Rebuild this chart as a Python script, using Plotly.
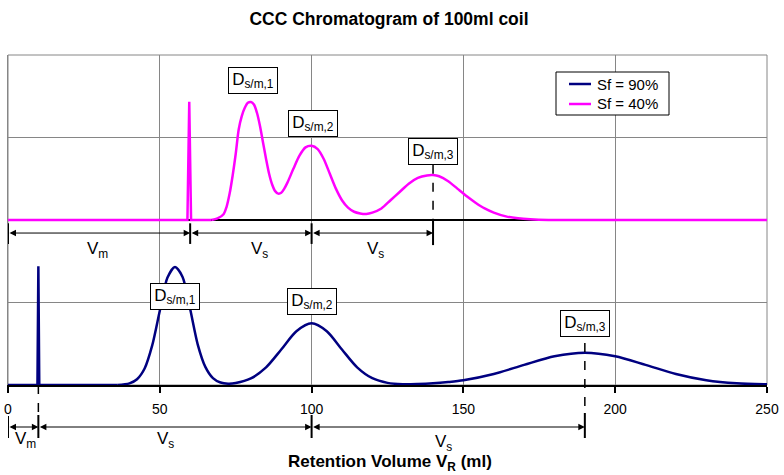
import plotly.graph_objects as go

# ---------------- data ----------------
# Retention volume axis (ml)
X_MAX = 250
x_ticks = [0, 50, 100, 150, 200, 250]

# Sf = 90 % : injection spike and detector trace
sf90_spike_x = [0, 9.7, 10, 10.3, 36]
sf90_spike_y = [0, 0, 0.72, 0, 0]
sf90_x = [36, 40, 42.5, 45, 47.5, 50, 52.5, 55, 57.5, 60, 62.5, 65, 67.5, 70, 72.5,
          75, 80, 85, 90, 95, 100, 105, 110, 115, 120, 125, 130, 135, 140, 145,
          150, 160, 170, 180, 190, 200, 210, 220, 230, 240, 250]
sf90_y = [0, 0.01, 0.035, 0.10, 0.24, 0.45, 0.65, 0.715, 0.655, 0.46, 0.245, 0.11, 0.042, 0.015, 0.008,
          0.012, 0.04, 0.107, 0.215, 0.326, 0.374, 0.326, 0.215, 0.107, 0.041, 0.013, 0.005, 0.006, 0.010, 0.018,
          0.029, 0.067, 0.122, 0.174, 0.196, 0.174, 0.122, 0.067, 0.029, 0.010, 0.004]

# Sf = 40 % : injection spike and detector trace (drawn on a raised baseline)
sf40_spike_x = [0, 59.1, 59.7, 60.3, 67]
sf40_spike_y = [0, 0, 0.717, 0, 0]
sf40_x = [67, 69, 71, 72, 73, 74, 75, 76, 77, 78, 79, 80, 81, 82, 83, 84, 85, 86, 87, 88, 89,
          90, 91, 92, 94, 96, 98, 100, 102, 104, 106, 108, 110, 112, 114, 116, 118, 120,
          123, 126, 129, 132, 135, 138, 140, 142, 145, 148, 151, 154, 157, 160, 164, 168,
          172, 178, 250]
sf40_y = [0, 0.01, 0.035, 0.08, 0.16, 0.27, 0.40, 0.55, 0.63, 0.68, 0.71, 0.715, 0.70, 0.65, 0.57,
          0.47, 0.37, 0.28, 0.215, 0.175, 0.16, 0.165, 0.19, 0.225, 0.31, 0.39, 0.44, 0.45, 0.43,
          0.37, 0.28, 0.19, 0.12, 0.075, 0.05, 0.04, 0.037, 0.045, 0.07, 0.12, 0.17, 0.22, 0.255,
          0.27, 0.272, 0.265, 0.235, 0.19, 0.145, 0.105, 0.07, 0.045, 0.022, 0.01, 0.004, 0, 0]
SF40_BASE = 1.0

# Volumes for the two coil settings
sf90_vm, sf90_peaks = 10, [55, 100, 190]
sf40_vm, sf40_peaks = 60, [80, 100, 140]
peak_labels = ["D<sub>s/m,1</sub>", "D<sub>s/m,2</sub>", "D<sub>s/m,3</sub>"]
series_names = ["Sf = 90%", "Sf = 40%"]

# ---------------- styling ----------------
FONT = "Liberation Sans, Arial, sans-serif"
NAVY = "#000080"
MAGENTA = "#FF00FF"
GRID = "#868686"

# plot area in pixels (for placing the key box and the frame)
L, R, T, B = 8, 767, 55, 385
def px_x(p):
    return (p - L) / (R - L)
def px_y(p):
    return (B - p) / (B - T)

fig = go.Figure()

# black baseline of the upper trace
fig.add_trace(go.Scatter(x=[0, X_MAX], y=[SF40_BASE, SF40_BASE], mode="lines",
                         line=dict(color="black", width=2), showlegend=False, hoverinfo="skip"))

fig.add_trace(go.Scatter(x=sf90_spike_x, y=sf90_spike_y, mode="lines",
                         line=dict(color=NAVY, width=2.5), showlegend=False))
fig.add_trace(go.Scatter(x=sf90_x, y=sf90_y, mode="lines", name=series_names[0],
                         line=dict(color=NAVY, width=2.5, shape="spline", smoothing=0.8),
                         showlegend=False))

fig.add_trace(go.Scatter(x=sf40_spike_x, y=[v + SF40_BASE for v in sf40_spike_y], mode="lines",
                         line=dict(color=MAGENTA, width=2.5), showlegend=False))
fig.add_trace(go.Scatter(x=sf40_x, y=[v + SF40_BASE for v in sf40_y], mode="lines", name=series_names[1],
                         line=dict(color=MAGENTA, width=2.5, shape="spline", smoothing=0.8),
                         showlegend=False))

shapes = []
annotations = []

# plot-area frame
shapes.append(dict(type="rect", xref="paper", yref="paper", x0=0, x1=1, y0=0, y1=1,
                   line=dict(color=GRID, width=1), layer="below"))

# ---- key box ----
shapes.append(dict(type="rect", xref="paper", yref="paper",
                   x0=px_x(556), x1=px_x(669), y0=px_y(115), y1=px_y(72),
                   line=dict(color="black", width=1), fillcolor="white", layer="above"))
for name, col, ky in zip(series_names, [NAVY, MAGENTA], [84, 104]):
    shapes.append(dict(type="line", xref="paper", yref="paper",
                       x0=px_x(569), x1=px_x(591), y0=px_y(ky), y1=px_y(ky),
                       line=dict(color=col, width=2.5), layer="above"))
    annotations.append(dict(x=px_x(595), y=px_y(ky), xref="paper", yref="paper",
                            xanchor="left", yanchor="middle", text=name, showarrow=False,
                            font=dict(family=FONT, size=15, color="black")))

# ---- peak labels ----
def peak_box(x, y, text):
    return dict(x=x, y=y, xref="x", yref="y", text=text, showarrow=False,
                font=dict(family=FONT, size=17, color="black"),
                bgcolor="white", bordercolor="black", borderwidth=1, borderpad=2,
                width=44, height=21, align="center", valign="middle")

sf40_label_y = [1.848, 1.584, 1.418]
sf40_label_dx = [0.7, 0.4, 0]
for px, ly, dx, t in zip(sf40_peaks, sf40_label_y, sf40_label_dx, peak_labels):
    annotations.append(peak_box(px + dx, ly, t))
sf90_label_y = [0.536, 0.506, 0.37]
for px, ly, t in zip(sf90_peaks, sf90_label_y, peak_labels):
    annotations.append(peak_box(px, ly, t))

# ---- dimension chains ----
def dim_arrow(x0, x1, y, yref):
    a = dict(x=x1, ax=x0, y=y, xref="x", axref="x", yref=yref, text="",
             showarrow=True, arrowside="end+start", arrowhead=2, startarrowhead=2,
             arrowsize=1.3, startarrowsize=1.3, arrowwidth=1, arrowcolor="black")
    if yref == "y":
        a.update(ay=y, ayref="y")
    else:
        a.update(ay=0, ayref="pixel")
    return a

def vbar(x, y0, y1, yref, dash="solid", width=2):
    return dict(type="line", xref="x", yref=yref, x0=x, x1=x, y0=y0, y1=y1,
                line=dict(color="black", width=width, dash=dash))

def dim_label(x, y, yref, text):
    return dict(x=x, y=y, xref="x", yref=yref, text=text, showarrow=False,
                xanchor="center", yanchor="middle",
                font=dict(family=FONT, size=17, color="black"))

# upper chain: Vm then two Vs steps
up_stops = [0, sf40_vm, sf40_peaks[1], sf40_peaks[2]]
UP_Y = 0.921
for a, b in zip(up_stops[:-1], up_stops[1:]):
    annotations.append(dim_arrow(a, b, UP_Y, "y"))
for s in up_stops[:-1]:
    shapes.append(vbar(s, 0.98, 0.855, "y"))
shapes.append(vbar(up_stops[-1], 1.0, 0.848, "y"))
shapes.append(vbar(up_stops[-1], 1.335, 1.0, "y", dash="dash", width=1.5))
up_label_x = [29.5, 82.8, 121]
for lx, t in zip(up_label_x, ["V<sub>m</sub>", "V<sub>s</sub>", "V<sub>s</sub>"]):
    annotations.append(dim_label(lx, 0.82, "y", t))

# lower chain, below the axis
lo_stops = [0, sf90_vm, sf90_peaks[1], sf90_peaks[2]]
LO_Y = px_y(427)
for a, b in zip(lo_stops[:-1], lo_stops[1:]):
    annotations.append(dim_arrow(a, b, LO_Y, "paper"))
shapes.append(vbar(lo_stops[0], px_y(416), px_y(438), "paper"))
shapes.append(vbar(lo_stops[1], px_y(415), px_y(438), "paper"))
shapes.append(vbar(lo_stops[1], 0, px_y(415), "paper", dash="dash", width=1.5))
shapes.append(vbar(lo_stops[2], px_y(415), px_y(438), "paper"))
shapes.append(vbar(lo_stops[3], px_y(413), px_y(438), "paper"))
shapes.append(vbar(lo_stops[3], px_y(343), px_y(413), "paper", dash="dash", width=1.5))
lo_label_x = [5.6, 52, 143.4]
lo_label_y = [440, 440, 443]
for lx, ly, t in zip(lo_label_x, lo_label_y, ["V<sub>m</sub>", "V<sub>s</sub>", "V<sub>s</sub>"]):
    annotations.append(dim_label(lx, px_y(ly), "paper", t))

# x-axis title
annotations.append(dict(x=px_x(390), y=px_y(463), xref="paper", yref="paper", showarrow=False,
                        xanchor="center", yanchor="middle",
                        text="<b>Retention Volume V<sub>R</sub> (ml)</b>",
                        font=dict(family=FONT, size=17, color="black")))

fig.update_layout(
    width=784, height=475,
    margin=dict(l=L, r=784 - R, t=T, b=475 - B, autoexpand=False),
    paper_bgcolor="white", plot_bgcolor="white",
    font=dict(family=FONT, color="black"),
    title=dict(text="<b>CCC Chromatogram of 100ml coil</b>", x=389 / 784,
               xanchor="center", y=1 - 19 / 475, yanchor="middle", yref="container",
               font=dict(family=FONT, size=17.5, color="black")),
    xaxis=dict(range=[0, X_MAX], tickvals=x_ticks, ticks="outside", ticklen=6,
               tickcolor="black", tickwidth=1.5, showline=True, linecolor="black", linewidth=1.5,
               showgrid=True, gridcolor=GRID, gridwidth=1, zeroline=False, automargin=False,
               tickfont=dict(family=FONT, size=14, color="black"), ticklabelstandoff=4,
               fixedrange=True),
    yaxis=dict(range=[0, 2], dtick=0.5, showticklabels=False, ticks="", automargin=False,
               showgrid=True, gridcolor=GRID, gridwidth=1, zeroline=False,
               showline=True, linecolor=GRID, linewidth=1, fixedrange=True),
    shapes=shapes,
    annotations=annotations,
    showlegend=False,
)

fig.write_html("out.html")
